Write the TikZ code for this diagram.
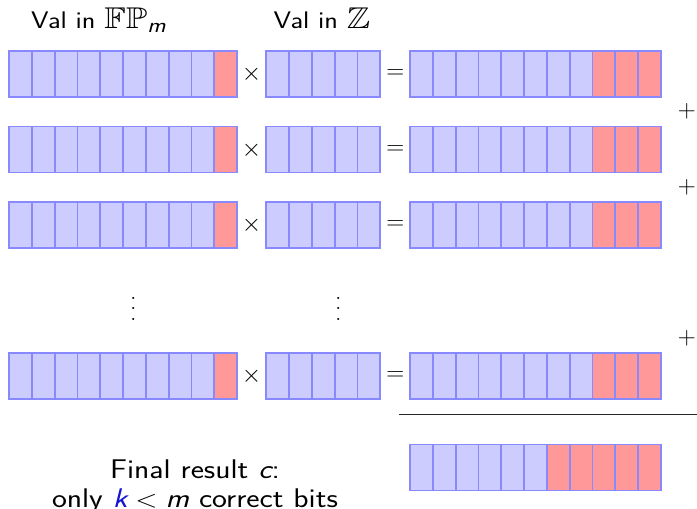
\documentclass[tikz,border=0pt]{standalone}
\usepackage{amsmath,amssymb,graphicx}
\definecolor{cellblue}{RGB}{204,204,255}
\definecolor{cellred}{RGB}{255,153,153}
\definecolor{cellline}{RGB}{136,136,255}
\definecolor{kblue}{RGB}{20,20,210}
\tikzset{
  cell/.style={draw=cellline, line width=1.8pt, minimum width=22.8pt, minimum height=46pt,
    inner sep=0pt, outer sep=0pt, anchor=north west},
  bcell/.style={cell, fill=cellblue},
  rcell/.style={cell, fill=cellred},
  oplabel/.style={inner sep=0pt, font=\fontsize{30}{36}\selectfont},
  txtlabel/.style={inner sep=0pt, font=\sffamily\fontsize{24}{29}\selectfont},
  bigtxt/.style={inner sep=0pt, font=\sffamily\fontsize{27}{32}\selectfont},
  dotsnode/.style={inner sep=0pt, anchor=south},
  sumline/.style={line width=1.2pt, black!85},
}
\newcommand{\cellrow}[5]{%
  \foreach \i in {1,...,#4}{%
    \ifnum\i<#5\relax
      \node[bcell] (#1-\i) at ({#2+(\i-1)*22.8},#3) {};
    \else
      \node[rcell] (#1-\i) at ({#2+(\i-1)*22.8},#3) {};
    \fi
  }%
}
\newcommand{\smit}[1]{\text{\sffamily\itshape #1}}
\newcommand{\bigmath}[1]{{\fontsize{30}{36}\selectfont$#1$}}
\newcommand{\wide}[1]{\scalebox{1.17}[1]{#1}}
\newcommand{\myvdots}{\scalebox{2.62}{\fontsize{7}{8}\selectfont$\vdots$}}
\begin{document}
\begin{tikzpicture}[x=1pt,y=-1pt]
\useasboundingbox (0,0) rectangle (697,509);
% labels
\node[txtlabel, anchor=base west] (labA) at (31,28.3) {\wide{Val in \bigmath{\mathbb{FP}_{\smit{m}}}}};
\node[txtlabel, anchor=base west] (labB) at (273.5,28.3) {\wide{Val in \bigmath{\mathbb{Z}}}};
% rows
\foreach \r/\y in {1/51,2/126.5,3/202,4/353}{
  \cellrow{a\r}{9}{\y}{10}{10}
  \cellrow{b\r}{266.3}{\y}{5}{6}
  \cellrow{c\r}{410}{\y}{11}{9}
  \node[oplabel] (times\r) at (251.6,\y+23.5) {$\times$};
  \node[oplabel] (eq\r) at (395.3,\y+23.5) {$=$};
}
% plus signs
\node[oplabel] (p1) at (686.7,111.7) {$+$};
\node[oplabel] (p2) at (686.7,187.3) {$+$};
\node[oplabel] (p3) at (686.7,338.3) {$+$};
% dots
\node[dotsnode] (d1) at (133.3,320.5) {\myvdots};
\node[dotsnode] (d2) at (338.3,320.5) {\myvdots};
% sum line
\coordinate (l1) at (399,414.5);
\coordinate (l2) at (697,414.5);
\draw[sumline] (l1) -- (l2);
% final result
\cellrow{f}{410}{444.5}{11}{7}
\node[bigtxt, anchor=base] (fin1) at (195,478.5) {\wide{Final result $\smit{c}$:}};
\node[bigtxt, anchor=base] (fin2) at (195,507) {\wide{only $\textcolor{kblue}{\smit{k}} < \smit{m}$ correct bits}};
\end{tikzpicture}
\end{document}
